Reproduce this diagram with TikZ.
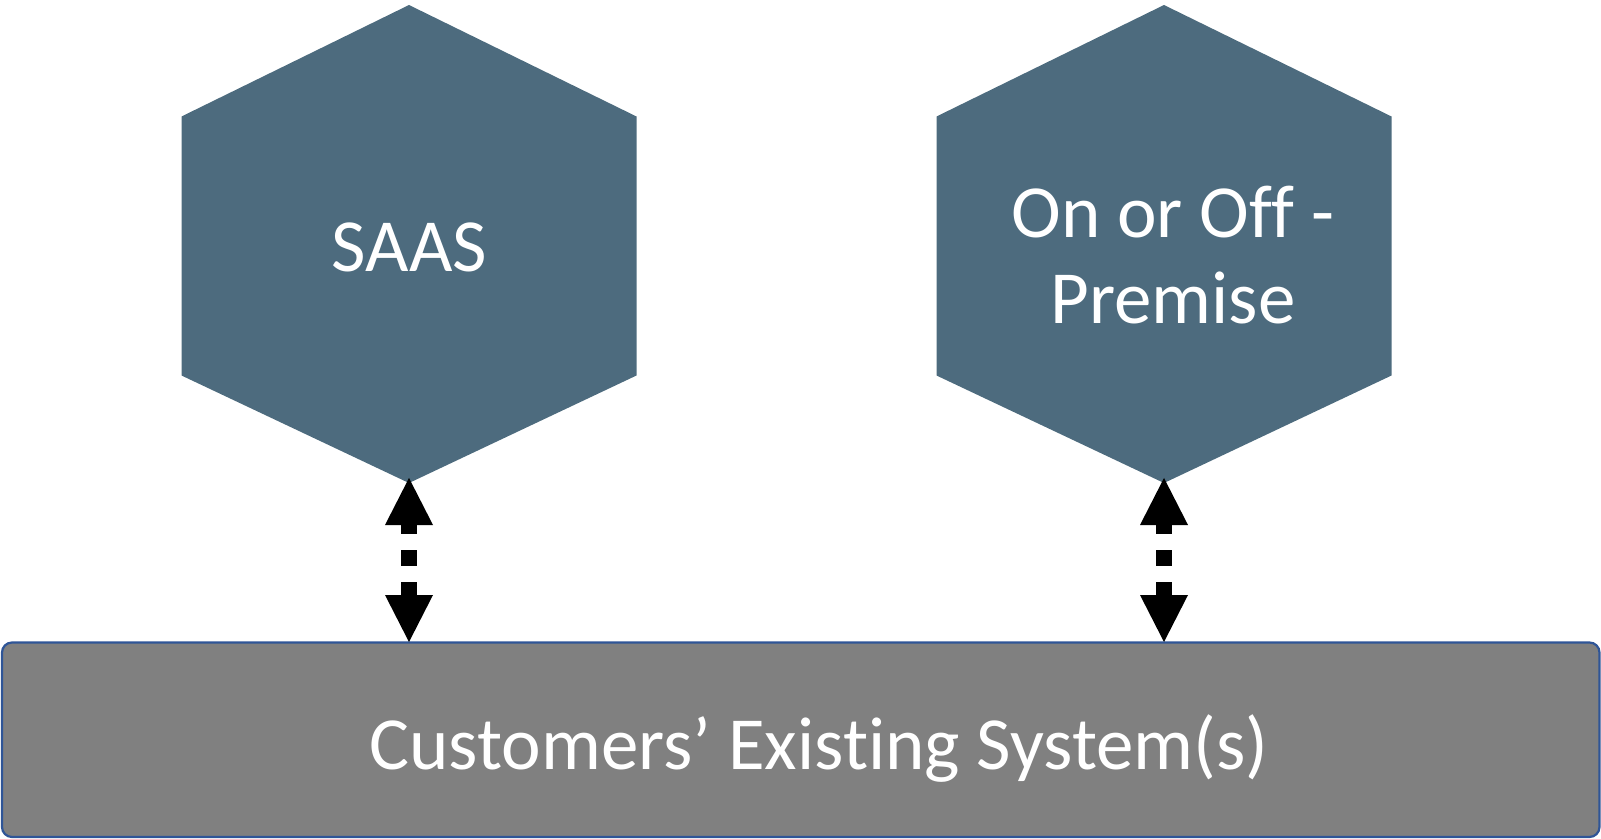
\documentclass[tikz,border=0pt]{standalone}
\usepackage{fontspec}
\setmainfont{Carlito}[Ligatures={NoCommon}]
\usetikzlibrary{arrows.meta}
\definecolor{hexfill}{HTML}{4D6B7E}
\definecolor{boxfill}{HTML}{808080}
\definecolor{boxline}{HTML}{2F5597}
\tikzset{
  hexshape/.style={fill=hexfill, draw=none},
  hextext/.style={text=white, font=\fontsize{37.5}{45}\selectfont, align=center, inner sep=0pt},
  basebox/.style={fill=boxfill, draw=boxline, line width=1.1pt, rounded corners=5pt},
  basetext/.style={text=white, font=\fontsize{37.5}{45}\selectfont, inner sep=0pt},
  link/.style={line width=8pt, dash pattern=on 8pt off 8pt, dash phase=3.5pt,
     {Triangle[length=23.5pt,width=24pt,line width=0pt]}-{Triangle[length=23.5pt,width=24pt,line width=0pt]}}
}
\begin{document}
\begin{tikzpicture}[x=0.5pt,y=-0.5pt]
\useasboundingbox (0,0) rectangle (1601,839);
% hexagon 1
\coordinate (h1b) at (409,478);
\fill[hexshape] (409,5) -- (636.5,116.5) -- (636.5,375.5) -- (409,483) -- (181.5,375.5) -- (181.5,116.5) -- cycle;
\node[hextext, anchor=base] (saas) at (409.5,272) {SAAS};
% hexagon 2
\coordinate (h2b) at (1164,478);
\fill[hexshape] (1164,5) -- (1391.5,116.5) -- (1391.5,375.5) -- (1164,483) -- (936.5,375.5) -- (936.5,116.5) -- cycle;
\node[hextext, anchor=base] (onoff1) at (1173,238) {On or Off -};
\node[hextext, anchor=base] (onoff2) at (1173,324) {Premise};
% base box
\draw[basebox] (2,642.5) rectangle (1599.5,837) ;
\node[basetext, anchor=base] (cust) at (819,769) {Customers’ Existing System(s)};
\coordinate (r1) at (409,642);
\coordinate (r2) at (1164,642);
\draw[link] (h1b) -- (r1);
\draw[link] (h2b) -- (r2);
\end{tikzpicture}
\end{document}
